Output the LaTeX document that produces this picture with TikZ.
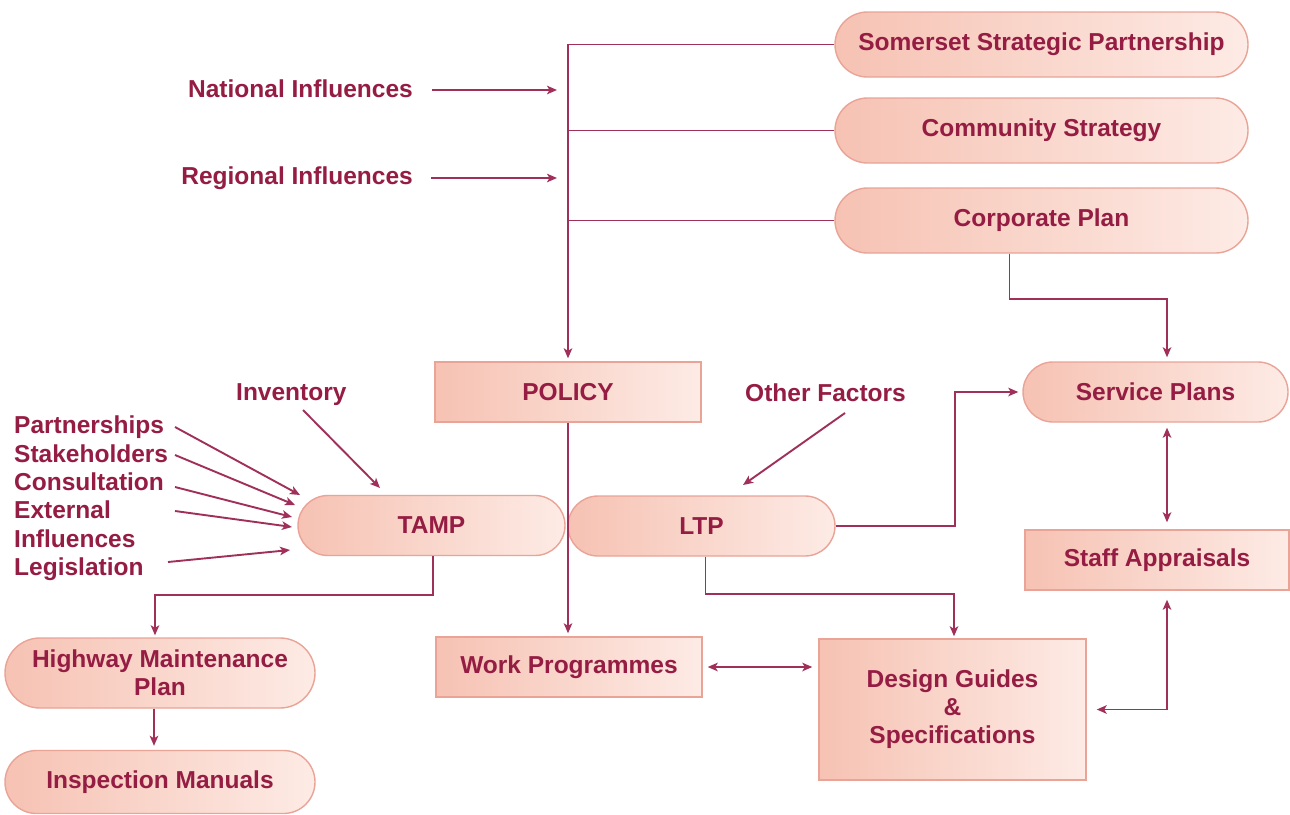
\documentclass[tikz,border=0pt]{standalone}
\usepackage{fontspec}
\setmainfont{Liberation Sans}
\usetikzlibrary{arrows.meta,shapes.misc,calc}
\definecolor{ink}{HTML}{951C42}
\definecolor{wire}{HTML}{A0305A}
\definecolor{edge}{HTML}{E9A397}
\definecolor{fillL}{HTML}{F6C2B3}
\definecolor{fillR}{HTML}{FDEBE5}
\begin{document}
\begin{tikzpicture}[x=1pt,y=-1pt,
  font=\fontsize{24.5}{28}\selectfont\bfseries,
  txt/.style={text=ink,inner sep=0pt},
  boxbase/.style={draw=edge,line width=1.4pt,left color=fillL,right color=fillR,
    text=ink,inner sep=0pt,align=center},
  pill/.style={boxbase,rounded rectangle},
  rbox/.style={boxbase,rectangle},
  conn/.style={draw=wire,line width=1.9pt},
  tip/.tip={Stealth[length=10pt,width=8.5pt,inset=2.5pt]},
  arr/.style={conn,-tip},
  arr2/.style={conn,tip-tip}]
\useasboundingbox (0,0) rectangle (1290,814);
\fill[white] (0,0) rectangle (1290,814);

% strategic documents
\node[pill,minimum width=413pt,minimum height=65pt] (ssp) at (1041.5,44.5) {Somerset Strategic Partnership};
\node[pill,minimum width=413pt,minimum height=65pt] (cs) at (1041.5,130.5) {Community Strategy};
\node[pill,minimum width=413pt,minimum height=65pt] (cp) at (1041.5,220.5) {Corporate Plan};

% central column
\node[rbox,minimum width=266pt,minimum height=60pt] (policy) at (568,392) {POLICY};
\node[pill,minimum width=267pt,minimum height=60pt] (tamp) at (431.5,525.5) {TAMP};
\node[pill,minimum width=267pt,minimum height=60pt] (ltp) at (701.5,526) {LTP};
\node[rbox,minimum width=266pt,minimum height=60pt] (work) at (569,667) {Work Programmes};
\node[rbox,minimum width=267pt,minimum height=141pt] (design) at (952.5,709.5) {Design Guides\\\&\\Specifications};

% right column
\node[pill,minimum width=265pt,minimum height=60pt] (sp) at (1155.5,392) {Service Plans};
\node[rbox,minimum width=264pt,minimum height=60pt] (staff) at (1157,560) {Staff Appraisals};

% left column
\node[pill,minimum width=310pt,minimum height=70pt] (hmp) at (160,673) {Highway Maintenance\\Plan};
\node[pill,minimum width=310pt,minimum height=63pt] (insp) at (160,782) {Inspection Manuals};

% influence labels
\node[txt,anchor=base east] (nat) at (413,97) {National Influences};
\node[txt,anchor=base east] (reg) at (413,184) {Regional Influences};
\node[txt,anchor=base west] (inv) at (236,400) {Inventory};
\node[txt,anchor=base west] (oth) at (745,401) {Other Factors};
\node[txt,anchor=base west] (lp) at (14,433) {Partnerships};
\node[txt,anchor=base west] (ls) at (14,462) {Stakeholders};
\node[txt,anchor=base west] (lc) at (14,490) {Consultation};
\node[txt,anchor=base west] (le) at (14,518) {External};
\node[txt,anchor=base west] (li) at (14,547) {Influences};
\node[txt,anchor=base west] (ll) at (14,575) {Legislation};

% free arrow ends
\coordinate (natE) at (557,90);
\coordinate (regE) at (557,178);
\coordinate (invS) at (303,410);  \coordinate (invE) at (380,488);
\coordinate (othS) at (845,413);  \coordinate (othE) at (743,485);
\coordinate (lpS) at (175,427);   \coordinate (lpE) at (300,495);
\coordinate (lsS) at (175,455);   \coordinate (lsE) at (295,505);
\coordinate (lcS) at (175,487);   \coordinate (lcE) at (292,517);
\coordinate (leS) at (175,511);   \coordinate (leE) at (292,527);
\coordinate (llS) at (168,562);   \coordinate (llE) at (290,550);

% trunk into POLICY
\draw[arr,shorten >=3pt] (ssp.west) -| (policy.north);
\draw[conn] (cs.west) -- (cs.west -| policy.north);
\draw[conn] (cp.west) -- (cp.west -| policy.north);
\draw[arr] ([xshift=19pt]nat.east |- natE) -- (natE);
\draw[arr] ([xshift=18pt]reg.east |- regE) -- (regE);

% inputs to TAMP and LTP
\draw[arr] (invS) -- (invE);
\draw[arr] (othS) -- (othE);
\draw[arr] (lpS) -- (lpE);
\draw[arr] (lsS) -- (lsE);
\draw[arr] (lcS) -- (lcE);
\draw[arr] (leS) -- (leE);
\draw[arr] (llS) -- (llE);

% downstream flows
\draw[arr,shorten >=3pt] (policy.south) -- (policy.south |- work.north);
\draw[arr,shorten >=2pt] ([xshift=1.5pt]tamp.south) -- ++(0,39) -| ([xshift=-5pt]hmp.north);
\draw[arr,shorten >=4pt] ([xshift=-6pt]hmp.south) -- ([xshift=-6pt]insp.north);
\draw[arr,shorten >=2pt] ([xshift=4pt]ltp.south) -- ++(0,37) -| ([xshift=1.5pt]design.north);
\draw[arr,shorten >=4pt] (ltp.east) -- ++(119,0) |- (sp.west);
\draw[arr,shorten >=4pt] ([xshift=-32pt]cp.south) -- ++(0,45) -| ([xshift=11.5pt]sp.north);

% two-way links
\draw[arr2,shorten <=5pt,shorten >=7pt] ([xshift=11.5pt]sp.south) -- ([xshift=11.5pt]sp.south |- staff.north);
\draw[arr2,shorten <=9pt,shorten >=10pt] ([xshift=10pt]staff.south) |- (design.east);
\draw[arr2,shorten <=5pt,shorten >=6pt] (work.east) -- (work.east -| design.west);
\end{tikzpicture}
\end{document}
